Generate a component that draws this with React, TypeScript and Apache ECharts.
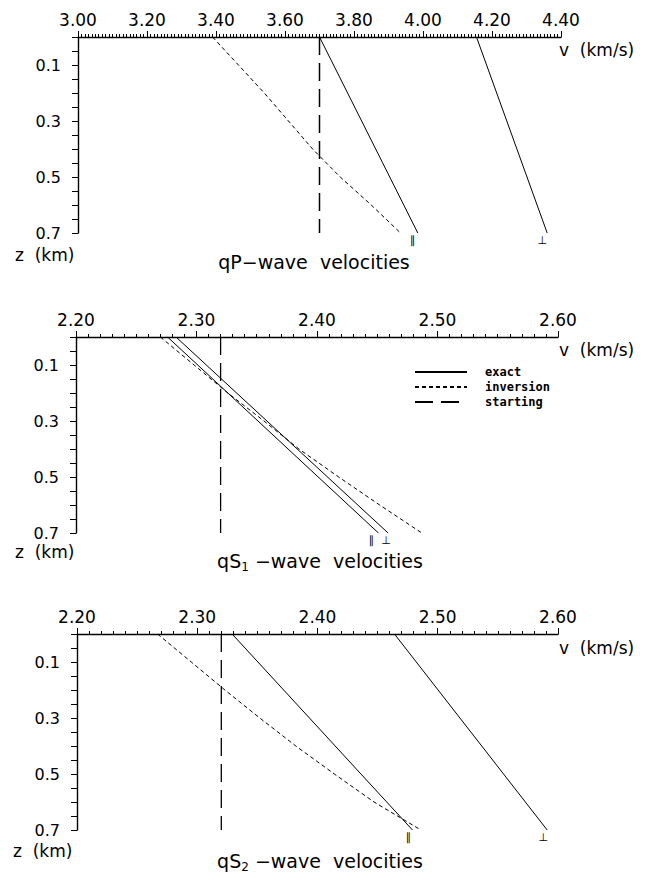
import React, { useEffect, useRef } from 'react';
import * as echarts from 'echarts';

// ---------- data ----------
const depthEnds = [0, 0.7];
const depthInv = [0, 0.1, 0.2, 0.3, 0.4, 0.5, 0.6, 0.7];

const qpExactPar = [3.70, 3.985];
const qpExactPerp = [4.155, 4.36];
const qpInversion = [3.39, 3.465, 3.54, 3.61, 3.68, 3.76, 3.85, 3.935];
const qpStarting = [3.70, 3.70];

const qs1ExactPar = [2.276, 2.451];
const qs1ExactPerp = [2.283, 2.459];
const qs1Inversion = [2.27, 2.298, 2.326, 2.356, 2.385, 2.418, 2.452, 2.487];
const qs1Starting = [2.32, 2.32];

const qs2ExactPar = [2.329, 2.479];
const qs2ExactPerp = [2.464, 2.591];
const qs2Inversion = [2.267, 2.295, 2.323, 2.352, 2.382, 2.414, 2.447, 2.486];
const qs2Starting = [2.32, 2.32];

const xMins = [3.0, 2.2, 2.2];
const xMaxs = [4.4, 2.6, 2.6];
const xIntervals = [0.2, 0.1, 0.1];
const xMinorSplits = [20, 10, 10];
const depthMin = 0;
const depthMax = 0.7;
const depthInterval = 0.05;

const legendNames = ['exact', 'inversion', 'starting'];
const parSymbol = '\u2225';
const perpSymbol = '\u22A5';

// ---------- styles ----------
const FONT = "'DejaVu Sans', sans-serif";
const grids = [
  { left: 78, width: 483, top: 37, height: 196 },
  { left: 76, width: 482, top: 337, height: 196 },
  { left: 77, width: 481, top: 634, height: 196 },
];
const DASH_INV = [4, 3];
const DASH_START = [18, 8];

function pairs(vals: number[], depths: number[]) {
  return vals.map((v, i) => [v, depths[i]]);
}

function lineSeries(
  name: string,
  g: number,
  vals: number[],
  depths: number[],
  dash: any,
  width: number,
  mark?: { text: string; dx: number }
) {
  const s: any = {
    type: 'line',
    name,
    xAxisIndex: g,
    yAxisIndex: g,
    data: pairs(vals, depths),
    symbol: 'none',
    showSymbol: false,
    silent: true,
    lineStyle: { color: '#000', width, type: dash },
    itemStyle: { color: '#000' },
    z: 3,
  };
  if (mark) {
    const last = vals.length - 1;
    s.markPoint = {
      symbol: 'rect',
      symbolSize: 1,
      silent: true,
      itemStyle: { color: 'rgba(0,0,0,0)' },
      label: {
        show: true,
        formatter: mark.text,
        position: 'bottom',
        distance: 1,
        offset: [mark.dx, 0],
        fontSize: 11,
        fontFamily: FONT,
        color: '#000',
      },
      data: [{ coord: [vals[last], depths[last]] }],
    };
  }
  return s;
}

export default function App() {
  const ref = useRef<HTMLDivElement>(null);
  useEffect(() => {
    if (!ref.current) return;
    const chart = echarts.init(ref.current, undefined, { renderer: 'svg' });

    const xAxis = grids.map((_, i) => ({
      type: 'value',
      gridIndex: i,
      position: 'top',
      min: xMins[i],
      max: xMaxs[i],
      interval: xIntervals[i],
      axisLine: { show: true, onZero: false, lineStyle: { color: '#000', width: 1.4 } },
      axisTick: { show: true, length: 6, lineStyle: { color: '#000', width: 1 } },
      minorTick: { show: true, splitNumber: xMinorSplits[i], length: 3, lineStyle: { color: '#000', width: 1 } },
      splitLine: { show: false },
      minorSplitLine: { show: false },
      axisLabel: {
        formatter: (v: number) => v.toFixed(2),
        fontSize: 17,
        fontFamily: FONT,
        color: '#000',
        margin: 9,
      },
    }));

    const yAxis = grids.map((_, i) => ({
      type: 'value',
      gridIndex: i,
      inverse: true,
      min: depthMin,
      max: depthMax,
      interval: depthInterval,
      axisLine: { show: true, onZero: false, lineStyle: { color: '#000', width: 1.4 } },
      axisTick: { show: true, length: 6, lineStyle: { color: '#000', width: 1 } },
      splitLine: { show: false },
      axisLabel: {
        formatter: (v: number) => {
          const t = Math.round(v * 100);
          return t % 20 === 10 ? v.toFixed(1) : '';
        },
        fontSize: 16,
        fontFamily: FONT,
        color: '#000',
        margin: 17,
      },
    }));

    const series: any[] = [
      lineSeries('exact', 0, qpExactPar, depthEnds, 'solid', 1, { text: parSymbol, dx: -5 }),
      lineSeries('exact', 0, qpExactPerp, depthEnds, 'solid', 1, { text: perpSymbol, dx: -5 }),
      lineSeries('inversion', 0, qpInversion, depthInv, DASH_INV, 1),
      lineSeries('starting', 0, qpStarting, depthEnds, DASH_START, 1.5),

      lineSeries('exact', 1, qs1ExactPar, depthEnds, 'solid', 1, { text: parSymbol, dx: -7 }),
      lineSeries('exact', 1, qs1ExactPerp, depthEnds, 'solid', 1, { text: perpSymbol, dx: -2 }),
      lineSeries('inversion', 1, qs1Inversion, depthInv, DASH_INV, 1),
      lineSeries('starting', 1, qs1Starting, depthEnds, DASH_START, 1.3),

      lineSeries('exact', 2, qs2ExactPar, depthEnds, 'solid', 1, { text: parSymbol, dx: -4 }),
      lineSeries('exact', 2, qs2ExactPerp, depthEnds, 'solid', 1, { text: perpSymbol, dx: -4 }),
      lineSeries('inversion', 2, qs2Inversion, depthInv, DASH_INV, 1),
      lineSeries('starting', 2, qs2Starting, depthEnds, DASH_START, 1.3),
    ];

    const txt = (x: number, y: number, text: string, size: number, align = 'left', rich?: any) => ({
      type: 'text',
      x,
      y,
      silent: true,
      style: {
        text,
        fill: '#000',
        fontSize: size,
        fontFamily: FONT,
        align,
        verticalAlign: 'middle',
        textAlign: align,
        textVerticalAlign: 'middle',
        rich,
      },
    });

    const titleRich = {
      a: { fontSize: 19, lineHeight: 24, fontFamily: FONT, fill: '#000', color: '#000' },
      b: { fontSize: 12, lineHeight: 12, verticalAlign: 'bottom', fontFamily: FONT, fill: '#000', color: '#000' },
    };

    const graphic: any[] = [
      txt(559, 50, 'v  (km/s)', 17),
      txt(559, 350, 'v  (km/s)', 17),
      txt(559, 648, 'v  (km/s)', 17),
      txt(15, 255, 'z  (km)', 17),
      txt(15, 552, 'z  (km)', 17),
      txt(13, 851, 'z  (km)', 17),
      txt(314, 262, '{a|qP\u2212wave  velocities}', 19, 'center', titleRich),
      txt(320, 561, '{a|qS}{b|1}{a| \u2212wave  velocities}', 19, 'center', titleRich),
      txt(320, 861, '{a|qS}{b|2}{a| \u2212wave  velocities}', 19, 'center', titleRich),
    ];

    chart.setOption({
      animation: false,
      backgroundColor: '#fff',
      grid: grids,
      xAxis,
      yAxis,
      series,
      legend: {
        orient: 'vertical',
        left: 414,
        top: 366,
        padding: 0,
        itemWidth: 52,
        itemHeight: 10,
        itemGap: 3,
        selectedMode: false,
        data: legendNames,
        itemStyle: { opacity: 0, color: 'rgba(0,0,0,0)', borderWidth: 0 },
        textStyle: {
          fontFamily: "'DejaVu Sans Mono', monospace",
          fontWeight: 'bold',
          fontSize: 12,
          color: '#000',
          padding: [0, 0, 0, 13],
        },
      },
      graphic,
    });
    return () => chart.dispose();
  }, []);
  return (
    <div
      ref={ref}
      style={{ position: 'absolute', left: 0, top: 0, width: 656, height: 883, background: '#fff' }}
    />
  );
}
